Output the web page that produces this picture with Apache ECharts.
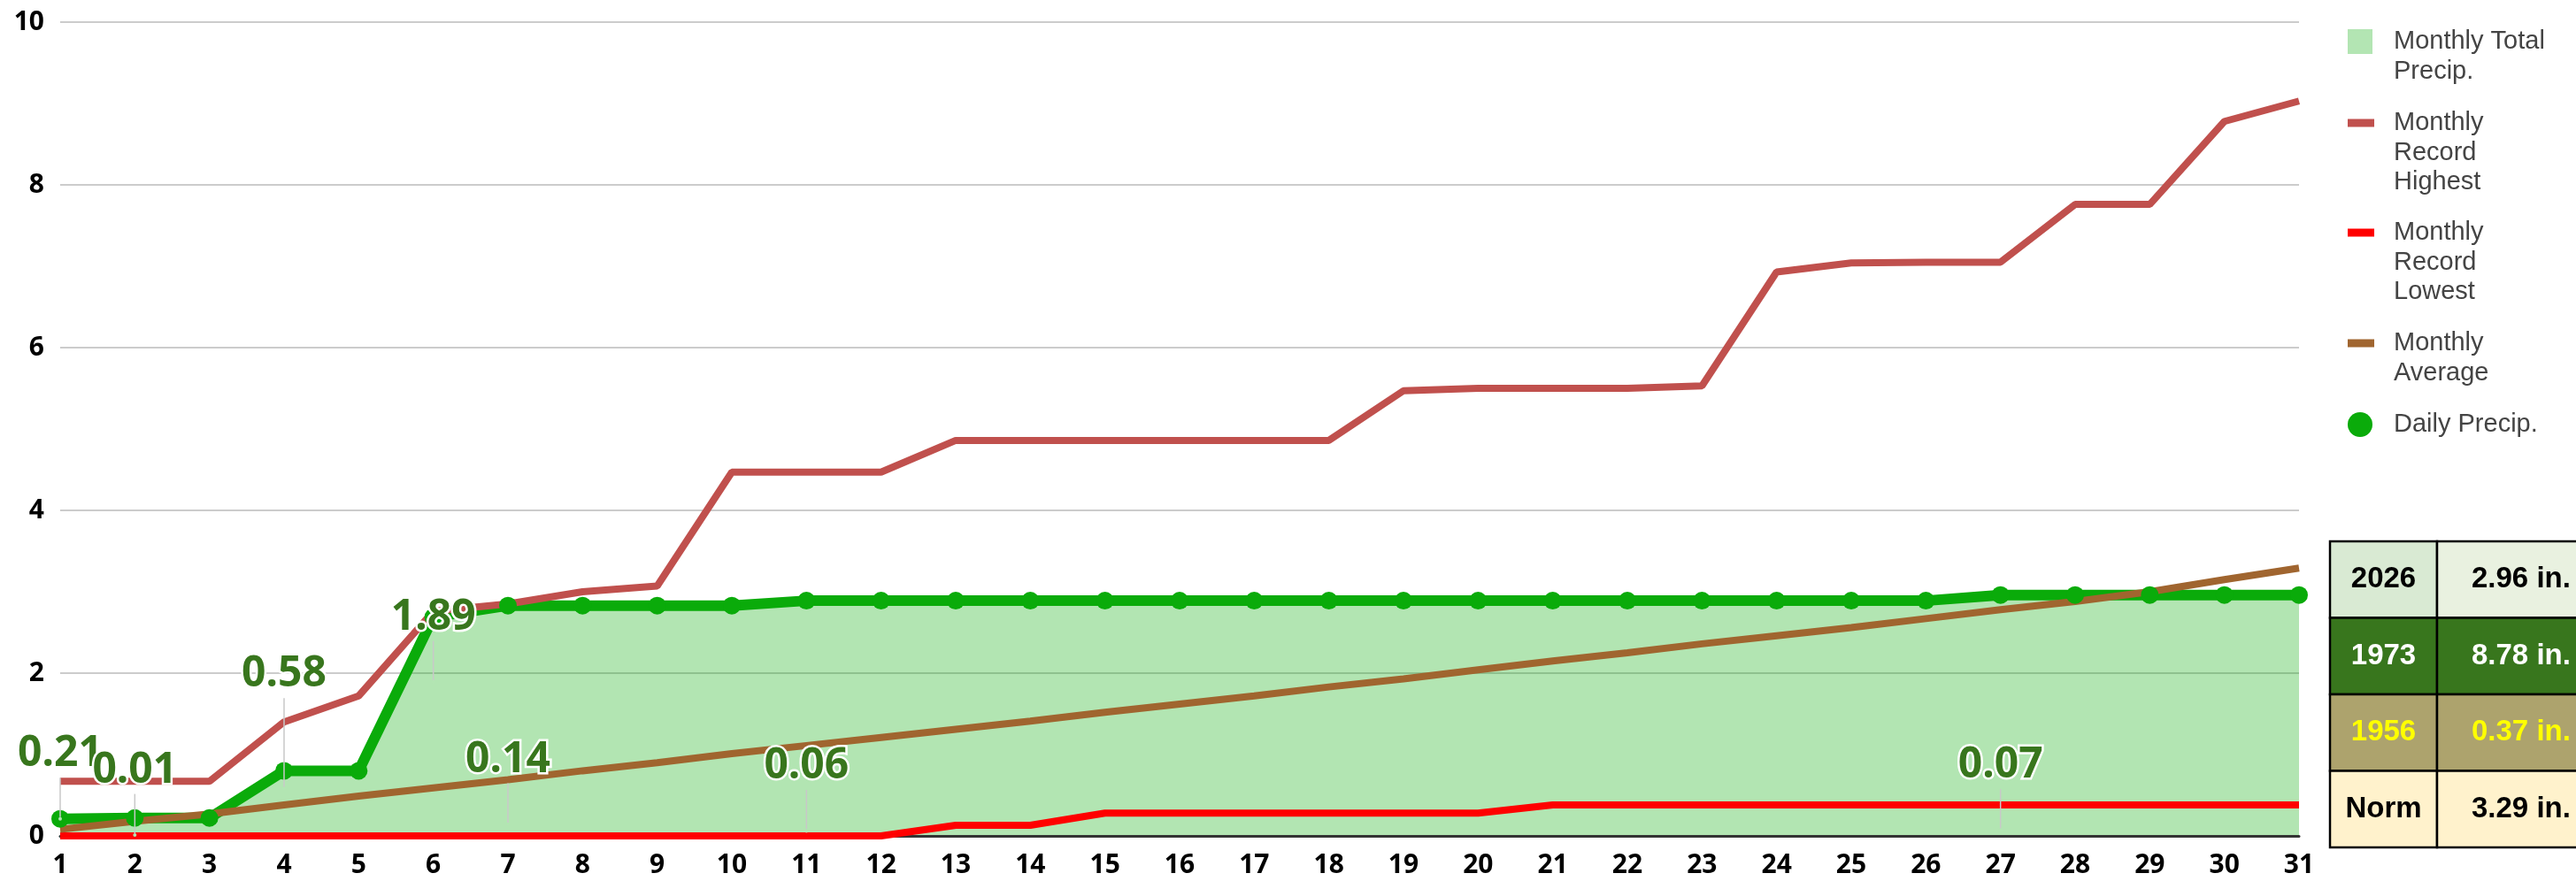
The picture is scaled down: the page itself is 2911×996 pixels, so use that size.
<!DOCTYPE html>
<html>
<head>
<meta charset="utf-8">
<script src="https://cdn.jsdelivr.net/npm/echarts@6.0.0/dist/echarts.min.js"></script>
<style>
html, body { margin: 0; padding: 0; background: #fff; }
#container { width: 2911px; height: 996px; }
</style>
</head>
<body>
<div id="container"></div>
<script>
// days of the month
var days = ['1','2','3','4','5','6','7','8','9','10','11','12','13','14','15','16',
            '17','18','19','20','21','22','23','24','25','26','27','28','29','30','31'];

// running monthly total (in.)
var monthlyTotal = [0.21, 0.22, 0.22, 0.80, 0.80, 2.69, 2.83, 2.83, 2.83, 2.83,
                    2.89, 2.89, 2.89, 2.89, 2.89, 2.89, 2.89, 2.89, 2.89, 2.89,
                    2.89, 2.89, 2.89, 2.89, 2.89, 2.89, 2.96, 2.96, 2.96, 2.96, 2.96];

var recordHighest = [0.67, 0.67, 0.67, 1.40, 1.72, 2.76, 2.85, 3.00, 3.07, 4.47,
                     4.47, 4.47, 4.86, 4.86, 4.86, 4.86, 4.86, 4.86, 5.47, 5.50,
                     5.50, 5.50, 5.53, 6.93, 7.04, 7.05, 7.05, 7.76, 7.76, 8.78, 9.03];

var recordLowest = [0, 0, 0, 0, 0, 0, 0, 0, 0, 0, 0, 0, 0.13, 0.13, 0.28, 0.28,
                    0.28, 0.28, 0.28, 0.28, 0.38, 0.38, 0.38, 0.38, 0.38, 0.38,
                    0.38, 0.38, 0.38, 0.38, 0.38];

var monthlyAverage = [0.08, 0.18, 0.27, 0.38, 0.49, 0.59, 0.69, 0.80, 0.90, 1.01,
                      1.11, 1.21, 1.31, 1.41, 1.52, 1.62, 1.72, 1.83, 1.93, 2.04,
                      2.15, 2.25, 2.36, 2.46, 2.56, 2.67, 2.78, 2.88, 3.00, 3.15, 3.29];

// days with rain and the amount that fell
var rainDays = ['1', '2', '4', '6', '7', '11', '27'];
var rainAmounts = [0.21, 0.01, 0.58, 1.89, 0.14, 0.06, 0.07];

var yTicks = [0, 2, 4, 6, 8, 10];

// summary table
var tableYears = ['2026', '1973', '1956', 'Norm'];
var tableTotals = ['2.96 in.', '8.78 in.', '0.37 in.', '3.29 in.'];

var dom = document.getElementById('container');
var myChart = echarts.init(dom, null, { renderer: 'canvas' });

var GREEN = '#0aab0a';
var HIGH = '#c0504d';
var LOW = '#ff0000';
var AVG = '#a0652f';

var axisFont = { fontFamily: 'Noto Sans', fontWeight: 'bold', fontSize: 30, color: '#000' };

// one legend per entry so the icon lines up with the first text line
var LH = 33.5;
var legendSpecs = [
    { name: 'Monthly Total Precip.', text: 'Monthly Total\nPrecip.', icon: 'rect', w: 28, h: 28, color: '#b3e5b3', cy: 47 },
    { name: 'Monthly Record Highest', text: 'Monthly\nRecord\nHighest', icon: 'rect', w: 30, h: 9, color: HIGH, cy: 139 },
    { name: 'Monthly Record Lowest', text: 'Monthly\nRecord\nLowest', icon: 'rect', w: 30, h: 9, color: LOW, cy: 263 },
    { name: 'Monthly Average', text: 'Monthly\nAverage', icon: 'rect', w: 30, h: 9, color: AVG, cy: 388 },
    { name: 'Daily Precip.', text: 'Daily Precip.', icon: 'circle', w: 28, h: 28, color: GREEN, cy: 480 }
];

var legends = legendSpecs.map(function (s) {
    var n = s.text.split('\n').length;
    var boxH = Math.max((2 * n - 1) * LH, s.h);
    // blank lines in front push the first real line level with the icon
    var shown = new Array(n).join('\n') + s.text;
    return {
        orient: 'vertical',
        left: 2653,
        top: s.cy - boxH / 2,
        padding: 0,
        itemGap: 0,
        itemWidth: s.w,
        itemHeight: s.h,
        symbolKeepAspect: false,
        selectedMode: false,
        data: [{ name: s.name, icon: s.icon, itemStyle: { color: s.color, borderWidth: 0, opacity: 1 } }],
        formatter: function () { return shown; },
        textStyle: {
            fontFamily: 'Liberation Sans',
            fontSize: 29,
            color: '#444',
            lineHeight: LH,
            padding: [0, 0, 0, 47 - s.w]
        }
    };
});

// summary table drawn with graphic elements
var tableFills = [['#d9ead3', '#e9f1e0'], ['#38761d', '#38761d'], ['#ada36d', '#ada36d'], ['#fff2cc', '#fff2cc']];
var tableInk = ['#000', '#fff', '#ffff00', '#000'];
var tableGraphic = [];
var rowH = 86.5, tableTop = 612, col1X = 2633, col2X = 2754;
tableYears.forEach(function (yr, i) {
    var y = tableTop + i * rowH;
    tableGraphic.push({
        type: 'rect', shape: { x: col1X, y: y, width: col2X - col1X, height: rowH },
        style: { fill: tableFills[i][0], stroke: '#000', lineWidth: 2.5 }
    });
    tableGraphic.push({
        type: 'rect', shape: { x: col2X, y: y, width: 220, height: rowH },
        style: { fill: tableFills[i][1], stroke: '#000', lineWidth: 2.5 }
    });
    tableGraphic.push({
        type: 'text', x: (col1X + col2X) / 2, y: y + rowH / 2,
        style: { text: yr, fill: tableInk[i], font: 'bold 33px "Liberation Sans"', textAlign: 'center', textVerticalAlign: 'middle' }
    });
    tableGraphic.push({
        type: 'text', x: 2793, y: y + rowH / 2,
        style: { text: tableTotals[i], fill: tableInk[i], font: 'bold 33px "Liberation Sans"', textAlign: 'left', textVerticalAlign: 'middle' }
    });
});

var option = {
    animation: false,
    backgroundColor: '#fff',
    legend: legends,
    grid: {
        left: 68,
        right: 313,
        top: 25,
        bottom: 51,
        containLabel: false,
        outerBoundsMode: 'none'
    },
    xAxis: {
        type: 'category',
        data: days,
        boundaryGap: false,
        z: 3,
        axisLine: { lineStyle: { color: '#333', width: 3 } },
        axisTick: { show: false },
        axisLabel: Object.assign({ interval: 0, margin: 18 }, axisFont),
        splitLine: { show: false }
    },
    yAxis: {
        type: 'value',
        min: yTicks[0],
        max: yTicks[yTicks.length - 1],
        interval: 2,
        axisLine: { show: false },
        axisTick: { show: false },
        axisLabel: Object.assign({ margin: 18 }, axisFont),
        splitLine: { lineStyle: { color: '#cccccc', width: 2 } }
    },
    series: [
        {
            name: 'Monthly Total Precip.',
            type: 'line',
            data: monthlyTotal,
            symbol: 'circle',
            symbolSize: 20,
            showAllSymbol: true,
            color: GREEN,
            lineStyle: { color: GREEN, width: 12 },
            itemStyle: { color: GREEN, borderWidth: 0 },
            areaStyle: { color: 'rgba(0,170,0,0.3)', opacity: 1 }
        },
        {
            name: 'Monthly Record Highest',
            type: 'line',
            data: recordHighest,
            symbol: 'none',
            color: HIGH,
            lineStyle: { color: HIGH, width: 8 }
        },
        {
            name: 'Monthly Record Lowest',
            type: 'line',
            data: recordLowest,
            symbol: 'none',
            color: LOW,
            lineStyle: { color: LOW, width: 8 }
        },
        {
            name: 'Monthly Average',
            type: 'line',
            data: monthlyAverage,
            symbol: 'none',
            color: AVG,
            lineStyle: { color: AVG, width: 8 }
        },
        {
            name: 'Daily Precip.',
            type: 'scatter',
            z: 6,
            data: rainDays.map(function (d, i) { return [d, rainAmounts[i]]; }),
            symbol: 'circle',
            symbolSize: 4,
            color: GREEN,
            itemStyle: { color: '#b3e5b3', opacity: 1 },
            label: {
                show: true,
                position: 'top',
                distance: 47,
                opacity: 1,
                formatter: function (p) { return p.value[1].toFixed(2); },
                fontFamily: 'Noto Sans',
                fontWeight: 'bold',
                fontSize: 48,
                color: '#38761d',
                textBorderColor: '#fff',
                textBorderWidth: 5
            },
            labelLine: {
                show: true,
                lineStyle: { color: '#c8c8c8', width: 1.5, opacity: 1 }
            },
            labelLayout: function (p) {
                // day 4 label sits higher, clear of the running total line
                return p.dataIndex === 2 ? { dy: -56 } : {};
            }
        }
    ],
    graphic: tableGraphic
};

if (option && typeof option === 'object') {
    myChart.setOption(option, true);
}
</script>
</body>
</html>
